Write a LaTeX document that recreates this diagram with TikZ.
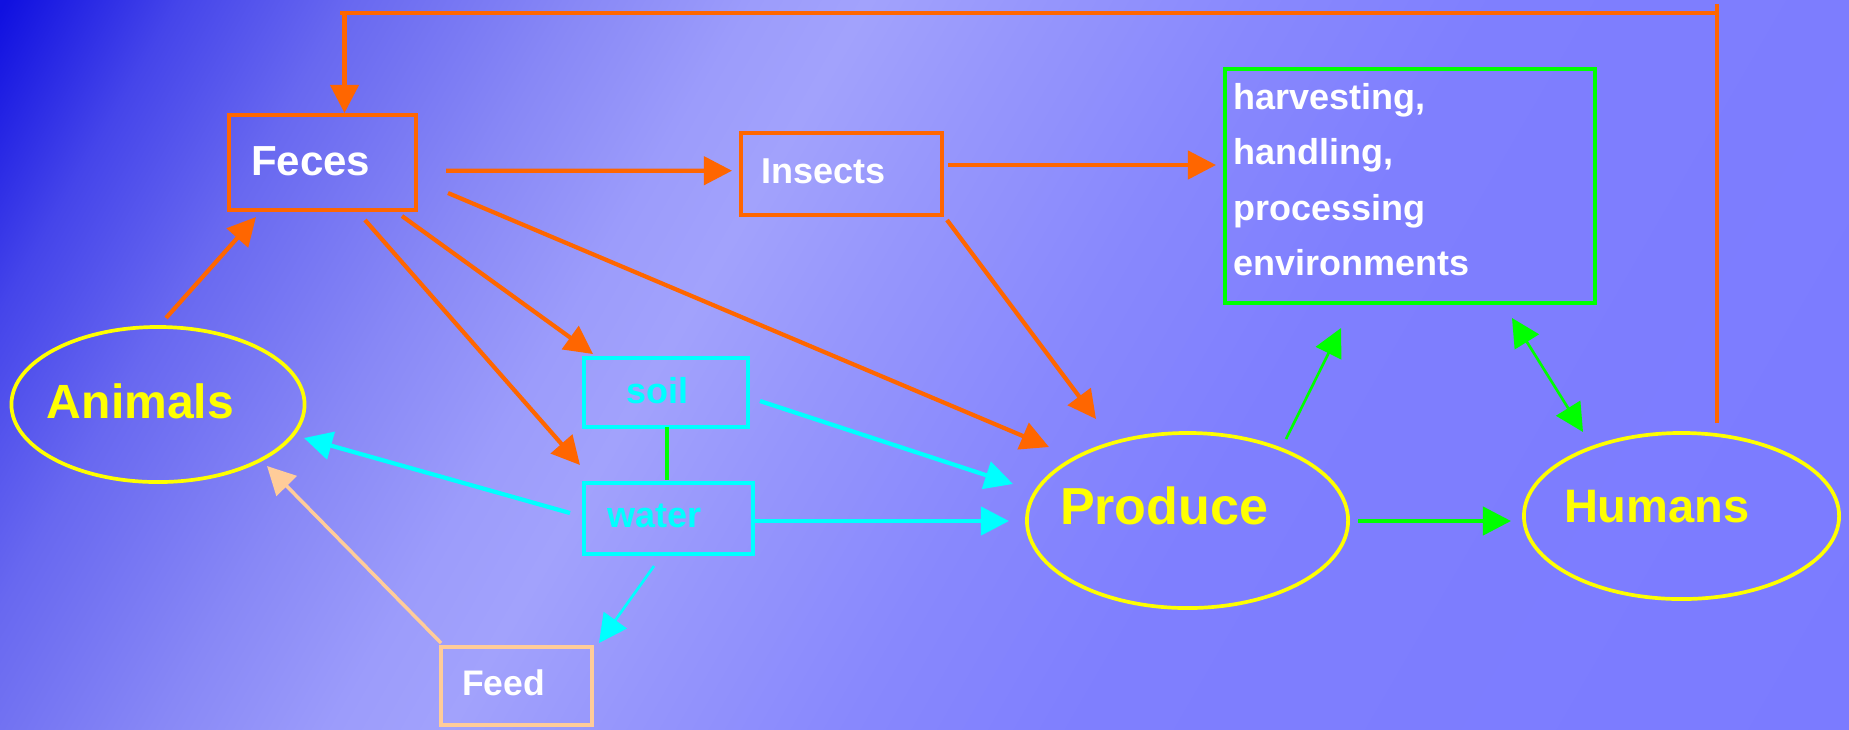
\documentclass[tikz,border=0pt]{standalone}
\usepackage{fontspec}
\setmainfont{Liberation Sans}
\usetikzlibrary{arrows.meta,calc,shapes.geometric}

% palette
\definecolor{bgA}{HTML}{1010E0}
\definecolor{bgB}{HTML}{4545EA}
\definecolor{bgC}{HTML}{6868F0}
\definecolor{bgD}{HTML}{8888F6}
\definecolor{bgE}{HTML}{9C9CFB}
\definecolor{bgF}{HTML}{A2A2FC}
\definecolor{bgG}{HTML}{9696FC}
\definecolor{bgH}{HTML}{8888FD}
\definecolor{bgI}{HTML}{7F7FFE}
\definecolor{bgJ}{HTML}{7B7BFF}
\definecolor{cOrange}{HTML}{FF6600}
\definecolor{cCyan}{HTML}{00FFFF}
\definecolor{cGreen}{HTML}{00FF00}
\definecolor{cYellow}{HTML}{FFFF00}
\definecolor{cPeach}{HTML}{FFCC99}

\pgfdeclarehorizontalshading{bgshade}{100bp}{%
  color(0bp)=(bgA); color(25.4bp)=(bgA); color(29.2bp)=(bgB);
  color(32.9bp)=(bgC); color(37.9bp)=(bgD); color(41.7bp)=(bgE);
  color(44.2bp)=(bgF); color(47.9bp)=(bgG); color(52.9bp)=(bgH);
  color(57.9bp)=(bgI); color(74.6bp)=(bgJ); color(100bp)=(bgJ)}

\tikzset{
  box/.style={draw, rectangle, line width=1pt, inner sep=0pt, outer sep=0pt},
  blob/.style={draw=cYellow, ellipse, line width=1.05pt, inner sep=0pt, outer sep=0pt},
  lbl/.style={anchor=base west, inner sep=0pt, outer sep=0pt, font=\bfseries},
  tip/.style={-{Triangle[length=8pt,width=8pt]}},
  thick line/.style={line width=1.2pt},
  thin line/.style={line width=0.75pt},
}

\begin{document}
\begin{tikzpicture}[x=0.01cm, y=-0.01cm]
\useasboundingbox (0,0) rectangle (1849,729);

% background gradient
\begin{scope}
  \clip (0,0) rectangle (1849,729);
  \shade[shading=bgshade, shading angle=-30] (-75.5,-635.5) rectangle (1924.5,1364.5);
\end{scope}

% boxes
\node[box, draw=cOrange, minimum width=1.87cm, minimum height=0.95cm] (feces) at (322.5,162.5) {};
\node[box, draw=cOrange, minimum width=2.01cm, minimum height=0.82cm] (insects) at (841.5,174) {};
\node[box, draw=cGreen, minimum width=3.70cm, minimum height=2.34cm] (harvest) at (1410,186) {};
\node[box, draw=cCyan, minimum width=1.64cm, minimum height=0.69cm] (soil) at (666,392.5) {};
\node[box, draw=cCyan, minimum width=1.69cm, minimum height=0.71cm] (water) at (668.5,518.5) {};
\node[box, draw=cPeach, minimum width=1.51cm, minimum height=0.78cm] (feed) at (516.5,686) {};

% ellipses
\node[blob, minimum width=2.93cm, minimum height=1.55cm] (animals) at (158,404.5) {};
\node[blob, minimum width=3.21cm, minimum height=1.75cm] (produce) at (1187.5,520.5) {};
\node[blob, minimum width=3.15cm, minimum height=1.66cm] (humans) at (1681.5,516) {};

% labels
\node[lbl, text=white, font=\bfseries\fontsize{11.95pt}{14pt}\selectfont] (fecesT) at (251,175) {Feces};
\node[lbl, text=white, font=\bfseries\fontsize{10.24pt}{12pt}\selectfont] (insectsT) at (761,183) {Insects};
\node[lbl, text=white, font=\bfseries\fontsize{10.24pt}{12pt}\selectfont] (hA) at (1233,109) {harvesting,};
\node[lbl, text=white, font=\bfseries\fontsize{10.24pt}{12pt}\selectfont] (hB) at (1233,164) {handling,};
\node[lbl, text=white, font=\bfseries\fontsize{10.24pt}{12pt}\selectfont] (hC) at (1233,220) {processing};
\node[lbl, text=white, font=\bfseries\fontsize{10.24pt}{12pt}\selectfont] (hD) at (1233,275) {environments};
\node[lbl, text=cCyan, font=\bfseries\fontsize{10.24pt}{12pt}\selectfont] (soilT) at (626,403) {soil};
\node[lbl, text=cCyan, font=\bfseries\fontsize{10.24pt}{12pt}\selectfont] (waterT) at (607,527) {water};
\node[lbl, text=white, font=\bfseries\fontsize{10.1pt}{12pt}\selectfont] (feedT) at (462,695) {Feed};
\node[lbl, text=cYellow, font=\bfseries\fontsize{13.66pt}{16pt}\selectfont] (animalsT) at (47,418) {Animals};
\node[lbl, text=cYellow, font=\bfseries\fontsize{14.8pt}{17pt}\selectfont] (produceT) at (1060,524) {Produce};
\node[lbl, text=cYellow, font=\bfseries\fontsize{13.37pt}{16pt}\selectfont] (humansT) at (1564,522) {Humans};

% return path from humans back to feces
\coordinate (loopR) at (1717,13);
\coordinate (loopL) at (344.5,13);
\draw[cOrange, thick line] ($(humans)+(35.5,-93)$) -- (1717,4);
\draw[cOrange, thick line] (loopR) -- (340,13);
\draw[cOrange, thick line, tip] (loopL) -- ($(feces)+(22,-49.5)$);

% orange flows
\draw[cOrange, thick line, tip] ($(animals)+(8,-86.5)$) -- ($(feces)+(-66.5,54.5)$);
\draw[cOrange, thick line, tip] ($(feces)+(123.5,8.2)$) -- ($(insects)+(-109.5,-3.3)$);
\draw[cOrange, thick line, tip] ($(insects)+(106.5,-9)$) -- ($(harvest)+(-194,-21)$);
\draw[cOrange, thick line, tip] ($(feces)+(79.5,53.5)$) -- ($(soil)+(-73,-38.5)$);
\draw[cOrange, thick line, tip] ($(feces)+(42.5,57.5)$) -- ($(water)+(-88.5,-53.5)$);
\draw[cOrange, thick line, tip] ($(feces)+(125.5,30.5)$) -- ($(produce)+(-138.5,-73.5)$);
\draw[cOrange, thick line, tip] ($(insects)+(105.5,46)$) -- ($(produce)+(-91.5,-101.5)$);

% cyan flows
\draw[cCyan, thick line, tip] ($(soil)+(94,8.5)$) -- ($(produce)+(-174.5,-36.5)$);
\draw[cCyan, thick line, tip] ($(water)+(86.5,2.5)$) -- ($(produce)+(-178.5,0.5)$);
\draw[cCyan, thick line, tip] ($(water)+(-98.5,-5.5)$) -- ($(animals)+(146,33.5)$);
\draw[cCyan, thin line, tip] ($(water)+(-14.5,47.5)$) -- ($(feed)+(82.5,-43)$);

% feed to animals
\draw[cPeach, line width=1pt, tip] ($(feed)+(-75.5,-43)$) -- ($(animals)+(109,61.5)$);

% green links
\draw[cGreen, line width=1pt] ($(soil)+(1,34.5)$) -- ($(water)+(-1.5,-38.5)$);
\draw[cGreen, thick line, tip] ($(produce)+(170.5,0.5)$) -- ($(humans)+(-170.5,5)$);
\draw[cGreen, thin line, tip] ($(produce)+(98.5,-81.5)$) -- ($(harvest)+(-69,142)$);
\draw[cGreen, thin line, {Triangle[length=8pt,width=8pt]}-{Triangle[length=8pt,width=8pt]}] ($(humans)+(-98.5,-84)$) -- ($(harvest)+(102,132)$);
\end{tikzpicture}
\end{document}
